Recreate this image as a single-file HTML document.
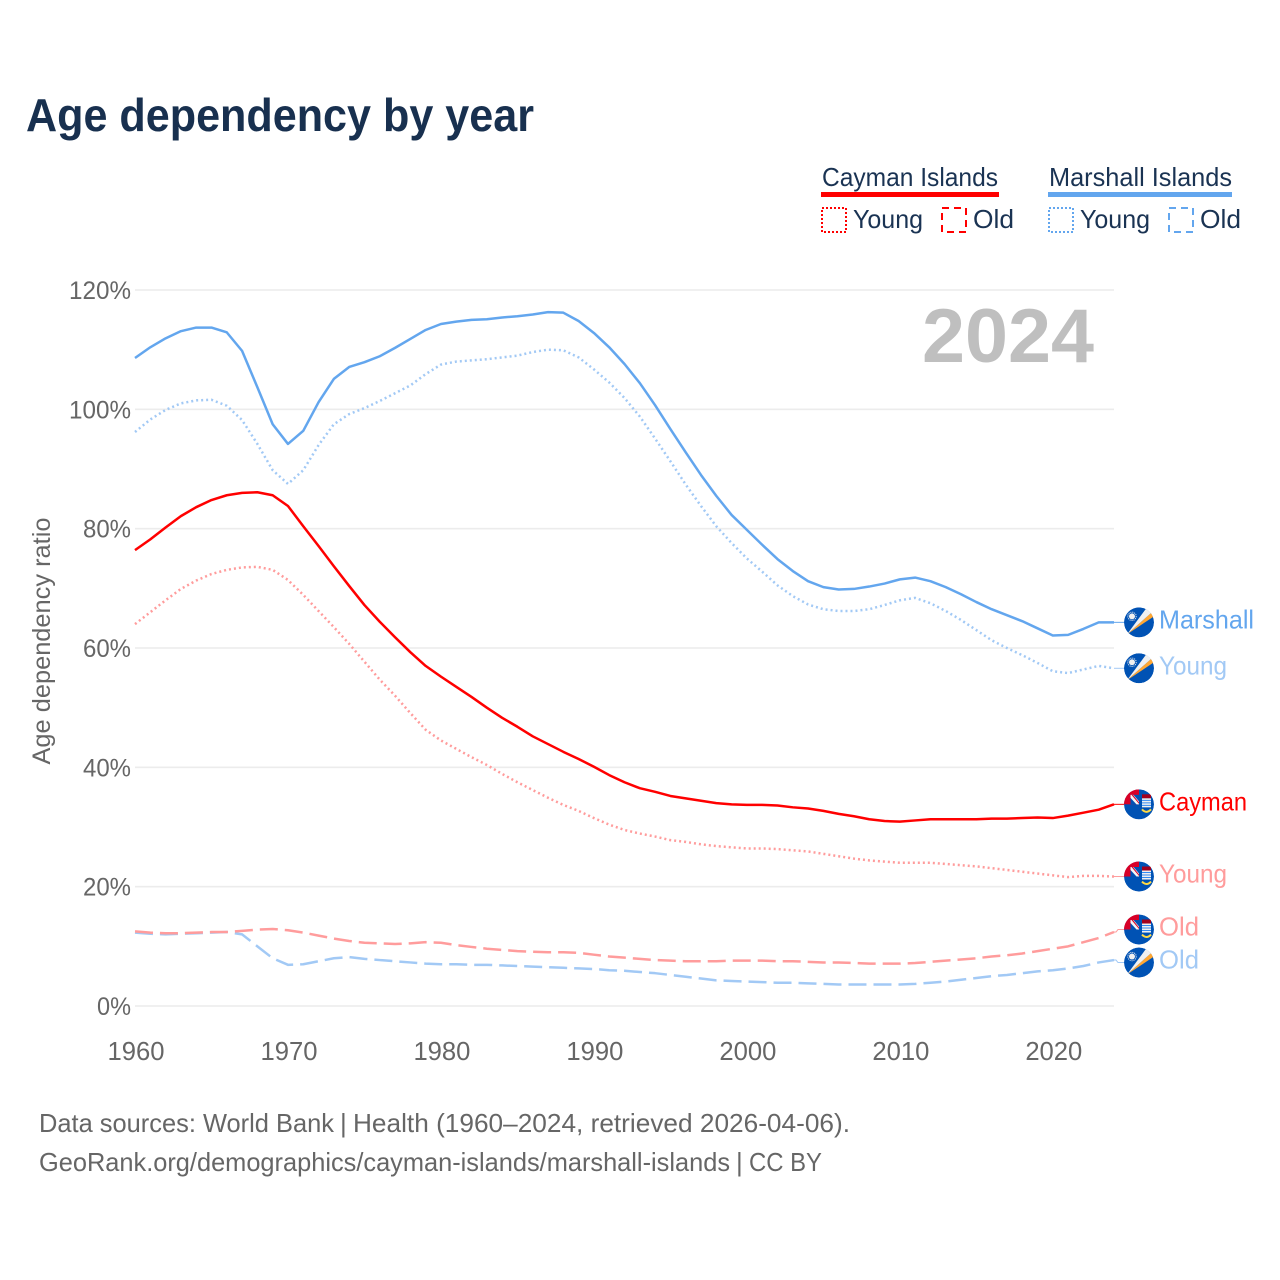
<!DOCTYPE html>
<html lang="en">
<head>
<meta charset="utf-8">
<title>Age dependency by year</title>
<style>
  html, body { margin: 0; padding: 0; background: #fff; }
  svg { display: block; font-family: "Liberation Sans", sans-serif; }
</style>
</head>
<body>
<svg id="chart" xmlns="http://www.w3.org/2000/svg" width="1280" height="1280" viewBox="0 0 1280 1280">
  <defs>
    <clipPath id="flag-clip"><circle cx="0" cy="0" r="15"></circle></clipPath>
  </defs>
  <rect x="0" y="0" width="1280" height="1280" fill="#fff"></rect>

  <text x="26" y="131" font-size="46" font-weight="700" fill="#18304f" textLength="508" lengthAdjust="spacingAndGlyphs">Age dependency by year</text>

  <g font-size="26" fill="#1a3353">
    <text x="822" y="186" textLength="176" lengthAdjust="spacingAndGlyphs">Cayman Islands</text>
    <rect x="821" y="192" width="178" height="5" fill="#ff0000"></rect>
    <rect x="822" y="208" width="24" height="24" fill="none" stroke="#ff0000" stroke-width="2" stroke-dasharray="2 2"></rect>
    <text x="853" y="228" textLength="70" lengthAdjust="spacingAndGlyphs">Young</text>
    <rect x="942" y="208" width="24" height="24" fill="none" stroke="#ff0000" stroke-width="2" stroke-dasharray="7 5"></rect>
    <text x="973" y="228" textLength="41" lengthAdjust="spacingAndGlyphs">Old</text>

    <text x="1049" y="186" textLength="183" lengthAdjust="spacingAndGlyphs">Marshall Islands</text>
    <rect x="1048" y="192" width="184" height="5" fill="#63a6ee"></rect>
    <rect x="1049" y="208" width="24" height="24" fill="none" stroke="#63a6ee" stroke-width="2" stroke-dasharray="2 2"></rect>
    <text x="1080" y="228" textLength="70" lengthAdjust="spacingAndGlyphs">Young</text>
    <rect x="1169" y="208" width="24" height="24" fill="none" stroke="#63a6ee" stroke-width="2" stroke-dasharray="7 5"></rect>
    <text x="1200" y="228" textLength="41" lengthAdjust="spacingAndGlyphs">Old</text>
  </g>

  <g id="grid"></g>
  <g id="y-ticks"></g>
  <g id="x-ticks"></g>

  <text x="922" y="362" font-size="76" font-weight="700" fill="#bfbfbf" textLength="172" lengthAdjust="spacingAndGlyphs">2024</text>

  <text transform="translate(50,641) rotate(-90)" text-anchor="middle" font-size="25" fill="#666" textLength="247" lengthAdjust="spacingAndGlyphs">Age dependency ratio</text>

  <g id="lines"></g>
  <g id="end-labels"></g>

  <g font-size="26" fill="#666">
    <text x="39" y="1132" textLength="295" lengthAdjust="spacingAndGlyphs">Data sources: World Bank</text>
    <text x="340" y="1132">|</text>
    <text x="353" y="1132" textLength="497" lengthAdjust="spacingAndGlyphs">Health (1960–2024, retrieved 2026-04-06).</text>
    <text x="39" y="1171" textLength="691" lengthAdjust="spacingAndGlyphs">GeoRank.org/demographics/cayman-islands/marshall-islands</text>
    <text x="736" y="1171">|</text>
    <text x="749" y="1171" textLength="73" lengthAdjust="spacingAndGlyphs">CC BY</text>
  </g>
</svg>

<script>
const years = [1960,1961,1962,1963,1964,1965,1966,1967,1968,1969,1970,1971,1972,1973,1974,1975,1976,1977,1978,1979,1980,1981,1982,1983,1984,1985,1986,1987,1988,1989,1990,1991,1992,1993,1994,1995,1996,1997,1998,1999,2000,2001,2002,2003,2004,2005,2006,2007,2008,2009,2010,2011,2012,2013,2014,2015,2016,2017,2018,2019,2020,2021,2022,2023,2024];
const xTickValues = [1960,1970,1980,1990,2000,2010,2020];
const yTickValues = [0,20,40,60,80,100,120];

const marshallTotal = [108.6,110.4,111.9,113.1,113.7,113.7,112.9,109.8,103.7,97.5,94.2,96.4,101.2,105.1,107.1,107.9,108.9,110.3,111.8,113.3,114.3,114.7,115,115.1,115.4,115.6,115.9,116.3,116.2,114.8,112.8,110.4,107.6,104.4,100.7,96.7,92.8,89,85.5,82.3,79.8,77.3,74.9,72.9,71.2,70.2,69.8,69.9,70.3,70.8,71.5,71.8,71.2,70.2,69,67.7,66.5,65.5,64.5,63.3,62.1,62.2,63.2,64.3,64.3];
const marshallYoung = [96.2,98.3,99.9,101,101.5,101.6,100.6,98.2,94.2,89.8,87.5,89.8,94,97.5,99.2,100.2,101.4,102.7,104,105.9,107.5,108,108.2,108.4,108.7,109,109.6,110,109.9,108.7,106.7,104.5,101.9,98.8,95.1,91.3,87.4,83.8,80.4,77.6,75,72.8,70.5,68.7,67.3,66.5,66.2,66.2,66.5,67.2,68,68.4,67.5,66.2,64.7,63,61.3,60,58.8,57.5,56.1,55.8,56.4,57,56.6];
const marshallOld = [12.3,12.1,12,12.1,12.2,12.3,12.4,12,10,8,6.9,7,7.5,8,8.2,7.9,7.7,7.5,7.3,7.1,7,7,6.9,6.9,6.8,6.7,6.6,6.5,6.4,6.3,6.2,6,5.9,5.7,5.5,5.2,4.9,4.6,4.3,4.2,4.1,4,3.9,3.9,3.8,3.7,3.6,3.6,3.6,3.6,3.6,3.7,3.9,4.1,4.4,4.7,5,5.2,5.5,5.8,6,6.3,6.7,7.3,7.7];
const caymanTotal = [76.4,78.2,80.2,82.1,83.6,84.8,85.6,86,86.1,85.6,83.8,80.4,77.1,73.7,70.4,67.2,64.4,61.8,59.3,57,55.2,53.5,51.8,50,48.3,46.8,45.2,43.9,42.6,41.4,40.1,38.7,37.5,36.5,35.9,35.2,34.8,34.4,34,33.8,33.7,33.7,33.6,33.3,33.1,32.7,32.2,31.8,31.3,31,30.9,31.1,31.3,31.3,31.3,31.3,31.4,31.4,31.5,31.6,31.5,31.9,32.4,32.9,33.8];
const caymanYoung = [64,66,68,69.9,71.3,72.4,73.1,73.5,73.6,73.1,71.4,68.9,66.2,63.5,60.7,57.7,54.7,52,49.1,46.3,44.5,43.1,41.7,40.4,38.9,37.5,36.2,34.9,33.7,32.7,31.5,30.4,29.5,28.9,28.4,27.8,27.5,27.1,26.8,26.6,26.4,26.4,26.3,26.1,25.9,25.5,25.1,24.7,24.4,24.2,24,24,24,23.8,23.6,23.4,23.1,22.8,22.5,22.2,21.9,21.6,21.8,21.8,21.7];
const caymanOld = [12.5,12.3,12.2,12.2,12.3,12.4,12.4,12.6,12.8,12.9,12.7,12.3,11.8,11.3,10.9,10.6,10.5,10.4,10.5,10.7,10.6,10.2,9.9,9.6,9.4,9.2,9.1,9,9,8.9,8.6,8.3,8.1,7.9,7.7,7.6,7.5,7.5,7.5,7.6,7.6,7.6,7.5,7.5,7.4,7.3,7.3,7.2,7.1,7.1,7.1,7.2,7.4,7.6,7.8,8,8.3,8.5,8.8,9.2,9.6,10,10.7,11.4,12.4];

const NS = 'http://www.w3.org/2000/svg';
const plotLeft = 135, plotRight = 1114, plotBaseY = 1006, plotTopY = 290;
function xScale(year) { return plotLeft + (year - 1960) / (2024 - 1960) * (plotRight - plotLeft); }
function yScale(value) { return plotBaseY - value / 120 * (plotBaseY - plotTopY); }
function make(tag, attrs, parent, text) {
  const el = document.createElementNS(NS, tag);
  for (const k in attrs) el.setAttribute(k, attrs[k]);
  if (text !== undefined) el.textContent = text;
  parent.appendChild(el);
  return el;
}

const gridGroup = document.getElementById('grid');
const yTickGroup = document.getElementById('y-ticks');
const xTickGroup = document.getElementById('x-ticks');
const lineGroup = document.getElementById('lines');
const labelGroup = document.getElementById('end-labels');

yTickValues.forEach(function (v) {
  const line = make('line', { x1: plotLeft, x2: plotRight, y1: yScale(v), y2: yScale(v), stroke: '#ececec', 'stroke-width': 1.6 }, gridGroup);
  
  
  const digits = String(v).length;
  const t = make('text', { x: 131, y: yScale(v) + 9, 'text-anchor': 'end', 'font-size': 25, fill: '#666', textLength: 20 + 14 * digits, lengthAdjust: 'spacingAndGlyphs' }, yTickGroup, v + '%');
  
  
});

xTickValues.forEach(function (year) {
  const t = make('text', { x: xScale(year) + 1, y: 1060, 'text-anchor': 'middle', 'font-size': 26, fill: '#666', textLength: 57, lengthAdjust: 'spacingAndGlyphs' }, xTickGroup, String(year));
  
  
});

const seriesList = [
  { id: 'marshall-old', values: marshallOld, color: '#a2c9f5', dash: '18 7', label: 'Old', flag: 'marshall', labelColor: '#a2c9f5' },
  { id: 'cayman-old', values: caymanOld, color: '#ff9c9c', dash: '18 7', label: 'Old', flag: 'cayman', labelColor: '#ff9c9c' },
  { id: 'marshall-young', values: marshallYoung, color: '#a2c9f5', dash: '2 3', label: 'Young', flag: 'marshall', labelColor: '#a2c9f5' },
  { id: 'cayman-young', values: caymanYoung, color: '#ff9c9c', dash: '2 3', label: 'Young', flag: 'cayman', labelColor: '#ff9c9c' },
  { id: 'marshall-total', values: marshallTotal, color: '#63a6ee', dash: '', label: 'Marshall', flag: 'marshall', labelColor: '#63a6ee' },
  { id: 'cayman-total', values: caymanTotal, color: '#ff0000', dash: '', label: 'Cayman', flag: 'cayman', labelColor: '#ff0000' }
];

seriesList.forEach(function (s) {
  const pts = s.values.map(function (v, i) { return xScale(years[i]).toFixed(2) + ',' + yScale(v).toFixed(2); }).join(' ');
  const attrs = { points: pts, fill: 'none', stroke: s.color, 'stroke-width': 2.5, 'stroke-linejoin': 'round' };
  if (s.dash) attrs['stroke-dasharray'] = s.dash;
  const line = make('polyline', attrs, lineGroup);
  
  
});

/* end-label placement: start at the last value, push apart when closer than the flag spacing */
const minLabelGap = 33;
const placed = seriesList.map(function (s) {
  const endY = yScale(s.values[s.values.length - 1]);
  return { s: s, endY: endY, y: endY };
}).sort(function (a, b) { return a.y - b.y; });
for (let pass = 0; pass < 8; pass++) {
  for (let i = 1; i < placed.length; i++) {
    const overlap = minLabelGap - (placed[i].y - placed[i - 1].y);
    if (overlap > 0) {
      placed[i - 1].y -= overlap / 2;
      placed[i].y += overlap / 2;
    }
  }
}

function drawFlag(parent, kind) {
  const clip = make('g', { 'clip-path': 'url(#flag-clip)' }, parent);
  make('circle', { cx: 0, cy: 0, r: 15, fill: '#0052b4' }, clip);
  if (kind === 'marshall') {
    make('polygon', { points: '-12,12 15,-12 15,-6', fill: '#ffa733' }, clip);
    make('polygon', { points: '-12,12 15,-12 8,-15', fill: '#f0f0f0' }, clip);
    make('circle', { cx: -7, cy: -6, r: 3, fill: '#f0f0f0' }, clip);
    make('circle', { cx: -7, cy: -6, r: 4.2, fill: 'none', stroke: '#f0f0f0', 'stroke-width': 1, 'stroke-dasharray': '1 1' }, clip);
  } else {
    make('rect', { x: -15, y: -15, width: 15, height: 15, fill: '#d80027' }, clip);
    make('rect', { x: -8.5, y: -9.5, width: 8.5, height: 9.5, fill: '#0052b4' }, clip);
    make('polygon', { points: '-8.5,-9.500 -5.500,-9.500 0,-3 0,0 -2.500,0 -8.500,-6.500', fill: '#f5f5f5' }, clip);
    make('polygon', { points: '-7.500,-9.500 -6,-9.500 0,-2 0,-0.500', fill: '#d80027' }, clip);
    make('rect', { x: 3, y: -10, width: 9, height: 4, fill: '#a2001d' }, clip);
    make('rect', { x: 3, y: -6, width: 9, height: 9, fill: '#f0f0f0' }, clip);
    make('path', { d: 'M3-4h9M3-1.500h9M3 1h9', stroke: '#338af3', 'stroke-width': 1, fill: 'none' }, clip);
    make('path', { d: 'M3 5q4.500 5 9 0', stroke: '#ffda44', 'stroke-width': 2, fill: 'none' }, clip);
  }
}

placed.slice().reverse().forEach(function (p) {
  const group = make('g', {}, labelGroup);
  
  
  const conn = make('polyline', { points: plotRight + ',' + p.endY.toFixed(2) + ' 1116,' + p.endY.toFixed(2) + ' 1118,' + p.y.toFixed(2) + ' 1124,' + p.y.toFixed(2), fill: 'none', stroke: p.s.color, 'stroke-width': 1 }, group);
  
  
  const flag = make('g', { transform: 'translate(1139,' + p.y.toFixed(2) + ')' }, group);
  
  
  drawFlag(flag, p.s.flag);
  const widths = { Marshall: 95, Cayman: 88, Young: 68, Old: 40 };
  const text = make('text', { x: 1159, y: (p.y + 6).toFixed(2), 'font-size': 26, fill: p.s.labelColor, textLength: widths[p.s.label], lengthAdjust: 'spacingAndGlyphs' }, group, p.s.label);
  
  
});
</script>
</body>
</html>
